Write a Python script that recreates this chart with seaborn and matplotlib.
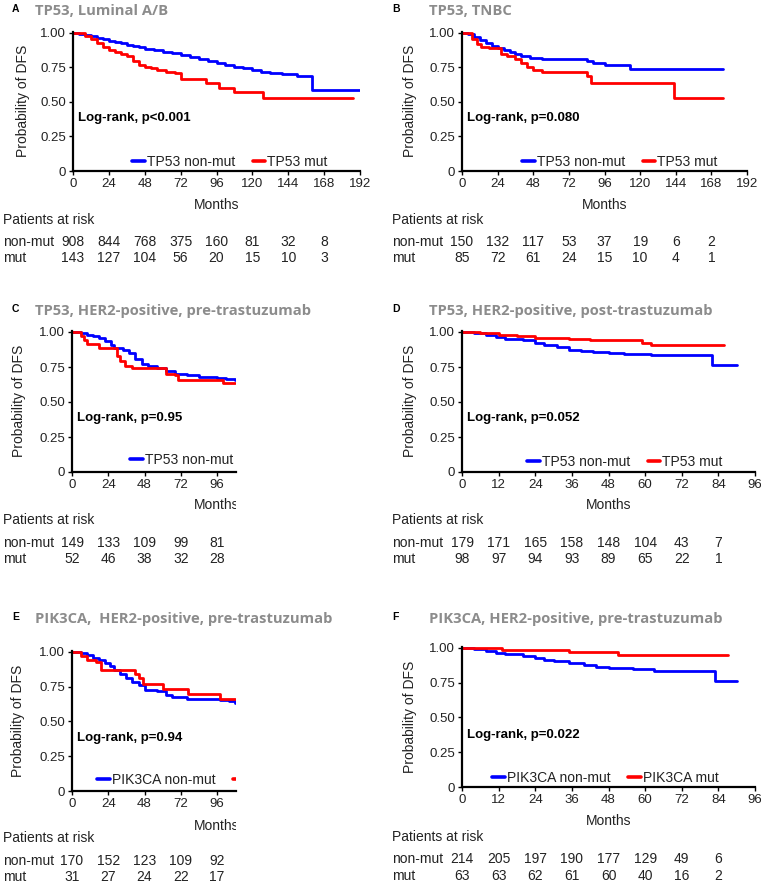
import matplotlib.pyplot as plt
import matplotlib.transforms as mtransforms
import seaborn as sns
import pandas as pd

# Kaplan-Meier curves (months, probability of DFS)
a_nonmut_t = [0, 4, 8, 12, 16, 20, 24, 28, 32, 36, 40, 44, 48, 54, 60, 66, 72, 78, 84, 90,
              96, 102, 108, 114, 120, 126, 132, 140, 150, 160, 192]
a_nonmut_s = [1.0, 0.995, 0.985, 0.975, 0.965, 0.955, 0.945, 0.935, 0.925, 0.915, 0.905,
              0.895, 0.885, 0.875, 0.865, 0.855, 0.84, 0.825, 0.81, 0.795, 0.78, 0.765,
              0.755, 0.745, 0.735, 0.72, 0.71, 0.70, 0.685, 0.588, 0.588]
a_mut_t = [0, 8, 12, 16, 20, 24, 28, 32, 36, 40, 44, 48, 52, 56, 62, 68, 72, 89, 98, 108, 127, 187]
a_mut_s = [1.0, 0.98, 0.955, 0.93, 0.90, 0.88, 0.865, 0.85, 0.83, 0.80, 0.77, 0.755, 0.745,
           0.735, 0.72, 0.71, 0.67, 0.635, 0.60, 0.57, 0.53, 0.53]

b_nonmut_t = [0, 4, 8, 12, 16, 20, 24, 28, 32, 36, 40, 46, 54, 84, 88, 96, 113, 176]
b_nonmut_s = [1.0, 0.99, 0.97, 0.95, 0.93, 0.905, 0.89, 0.875, 0.86, 0.845, 0.83, 0.82,
              0.81, 0.80, 0.785, 0.77, 0.74, 0.74]
b_mut_t = [0, 7, 10, 13, 18, 26, 30, 36, 40, 44, 48, 54, 84, 87, 143, 176]
b_mut_s = [1.0, 0.96, 0.92, 0.90, 0.89, 0.85, 0.83, 0.81, 0.78, 0.75, 0.735, 0.72, 0.685,
           0.635, 0.53, 0.53]

c_nonmut_t = [0, 6, 10, 14, 18, 22, 26, 28, 34, 38, 42, 46, 50, 56, 62, 68, 76, 84, 96, 102, 108]
c_nonmut_s = [1.0, 0.99, 0.98, 0.97, 0.955, 0.935, 0.91, 0.885, 0.87, 0.85, 0.81, 0.775,
              0.755, 0.74, 0.725, 0.70, 0.69, 0.68, 0.675, 0.665, 0.655]
c_mut_t = [0, 6, 8, 10, 18, 30, 32, 35, 40, 62, 68, 70, 100, 108]
c_mut_s = [1.0, 0.97, 0.945, 0.915, 0.885, 0.83, 0.79, 0.76, 0.74, 0.70, 0.695, 0.655,
           0.635, 0.635]

d_nonmut_t = [0, 4, 8, 11, 14, 20, 24, 27, 31, 35, 39, 43, 48, 53, 62, 82, 90]
d_nonmut_s = [1.0, 0.99, 0.98, 0.965, 0.95, 0.94, 0.925, 0.905, 0.89, 0.875, 0.865, 0.855,
              0.85, 0.845, 0.835, 0.765, 0.765]
d_mut_t = [0, 6, 12, 18, 24, 35, 42, 59, 62, 86]
d_mut_s = [1.0, 0.99, 0.98, 0.97, 0.96, 0.95, 0.94, 0.925, 0.91, 0.91]

e_nonmut_t = [0, 6, 10, 14, 18, 22, 25, 28, 32, 36, 40, 44, 48, 56, 62, 66, 76, 98, 104, 108]
e_nonmut_s = [1.0, 0.99, 0.975, 0.955, 0.94, 0.92, 0.90, 0.87, 0.845, 0.815, 0.785, 0.76,
              0.73, 0.72, 0.69, 0.675, 0.665, 0.655, 0.645, 0.63]
e_mut_t = [0, 6, 10, 16, 19, 42, 44, 47, 60, 77, 98, 108]
e_mut_s = [1.0, 0.97, 0.945, 0.925, 0.873, 0.84, 0.81, 0.772, 0.736, 0.70, 0.665, 0.665]

f_nonmut_t = [0, 4, 8, 11, 14, 20, 24, 27, 30, 35, 40, 44, 48, 56, 63, 83, 90]
f_nonmut_s = [1.0, 0.99, 0.98, 0.965, 0.955, 0.945, 0.93, 0.915, 0.905, 0.89, 0.875, 0.865,
              0.855, 0.85, 0.835, 0.765, 0.765]
f_mut_t = [0, 13, 35, 51, 87]
f_mut_s = [1.0, 0.983, 0.969, 0.952, 0.952]

# patients at risk
a_risk_t = [0, 24, 48, 72, 96, 120, 144, 168]
a_risk_nonmut = [908, 844, 768, 375, 160, 81, 32, 8]
a_risk_mut = [143, 127, 104, 56, 20, 15, 10, 3]
b_risk_t = [0, 24, 48, 72, 96, 120, 144, 168]
b_risk_nonmut = [150, 132, 117, 53, 37, 19, 6, 2]
b_risk_mut = [85, 72, 61, 24, 15, 10, 4, 1]
c_risk_t = [0, 24, 48, 72, 96]
c_risk_nonmut = [149, 133, 109, 99, 81]
c_risk_mut = [52, 46, 38, 32, 28]
d_risk_t = [0, 12, 24, 36, 48, 60, 72, 84]
d_risk_nonmut = [179, 171, 165, 158, 148, 104, 43, 7]
d_risk_mut = [98, 97, 94, 93, 89, 65, 22, 1]
e_risk_t = [0, 24, 48, 72, 96]
e_risk_nonmut = [170, 152, 123, 109, 92]
e_risk_mut = [31, 27, 24, 22, 17]
f_risk_t = [0, 12, 24, 36, 48, 60, 72, 84]
f_risk_nonmut = [214, 205, 197, 190, 177, 129, 49, 6]
f_risk_mut = [63, 63, 62, 61, 60, 40, 16, 2]

letters = ['A', 'B', 'C', 'D', 'E', 'F']
titles = ['TP53, Luminal A/B', 'TP53, TNBC', 'TP53, HER2-positive, pre-trastuzumab',
          'TP53, HER2-positive, post-trastuzumab', 'PIK3CA,  HER2-positive, pre-trastuzumab',
          'PIK3CA, HER2-positive, pre-trastuzumab']
genes = ['TP53', 'TP53', 'TP53', 'TP53', 'PIK3CA', 'PIK3CA']
pvals = ['p<0.001', 'p=0.080', 'p=0.95', 'p=0.052', 'p=0.94', 'p=0.022']

W, H = 761, 883
fx = lambda x: x / W
fy = lambda y: 1 - y / H

# layout in pixels: (left, right, top, bottom) of axes, xlim, xtick step, and text rows
layout = [
    dict(box=(73, 360, 31.6, 171), xmax=192, step=24, col=0, title_y=11, months_y=205,
         risk_y=(220, 242, 258), leg=(132, 162), logrank_y=118, ylab_x=30, clip=None),
    dict(box=(462, 747, 31.6, 171), xmax=192, step=24, col=1, title_y=11, months_y=205,
         risk_y=(220, 242, 258), leg=(522, 162), logrank_y=118, ylab_x=417, clip=None),
    dict(box=(72, 236, 330.6, 472), xmax=108.5, step=24, col=0, title_y=311, months_y=505,
         risk_y=(520, 543, 559), leg=(130, 460), logrank_y=418, ylab_x=26, clip=236),
    dict(box=(462, 755, 330.6, 472), xmax=96, step=12, col=1, title_y=311, months_y=505,
         risk_y=(520, 543, 559), leg=(527, 462), logrank_y=418, ylab_x=417, clip=None),
    dict(box=(72, 236, 650.6, 791), xmax=108.5, step=24, col=0, title_y=619, months_y=826,
         risk_y=(838, 861, 877), leg=(97, 780), logrank_y=738, ylab_x=25, clip=236),
    dict(box=(462, 755, 646.6, 787), xmax=96, step=12, col=1, title_y=619, months_y=821,
         risk_y=(837, 859, 876), leg=(492, 778), logrank_y=735, ylab_x=417, clip=None),
]

curves = [(a_nonmut_t, a_nonmut_s, a_mut_t, a_mut_s), (b_nonmut_t, b_nonmut_s, b_mut_t, b_mut_s),
          (c_nonmut_t, c_nonmut_s, c_mut_t, c_mut_s), (d_nonmut_t, d_nonmut_s, d_mut_t, d_mut_s),
          (e_nonmut_t, e_nonmut_s, e_mut_t, e_mut_s), (f_nonmut_t, f_nonmut_s, f_mut_t, f_mut_s)]
risks = [(a_risk_t, a_risk_nonmut, a_risk_mut), (b_risk_t, b_risk_nonmut, b_risk_mut),
         (c_risk_t, c_risk_nonmut, c_risk_mut), (d_risk_t, d_risk_nonmut, d_risk_mut),
         (e_risk_t, e_risk_nonmut, e_risk_mut), (f_risk_t, f_risk_nonmut, f_risk_mut)]

sns.set_style('white')
plt.rcParams['font.family'] = ['Liberation Sans', 'DejaVu Sans']
TXT = '#222222'
FS = 9.5

fig = plt.figure(figsize=(7.61, 8.83), dpi=100)

for i, lay in enumerate(layout):
    l, r, t, b = lay['box']
    ax = fig.add_axes([fx(l), fy(b), (r - l) / W, (b - t) / H])
    nt, ns, mt, ms = curves[i]
    df_n = pd.DataFrame({'Months': nt, 'DFS': ns})
    df_m = pd.DataFrame({'Months': mt, 'DFS': ms})
    sns.lineplot(data=df_n, x='Months', y='DFS', ax=ax, color='#0000ff', linewidth=2,
                 drawstyle='steps-post', estimator=None, sort=False,
                 label=genes[i] + ' non-mut')
    sns.lineplot(data=df_m, x='Months', y='DFS', ax=ax, color='#ff0000', linewidth=2,
                 drawstyle='steps-post', estimator=None, sort=False,
                 label=genes[i] + ' mut')

    ax.set_xlim(0, lay['xmax'])
    ax.set_ylim(0, 1.01)
    ax.set_xticks(list(range(0, int(lay['xmax']) + 1, lay['step'])))
    ax.set_yticks([0, 0.25, 0.5, 0.75, 1.0])
    ax.set_yticklabels(['0', '0.25', '0.50', '0.75', '1.00'])
    ax.set_xlabel('')
    ax.set_ylabel('Probability of DFS', fontsize=FS + 0.5, color=TXT)
    ax.yaxis.set_label_coords((lay['ylab_x'] - l) / (r - l), 0.5)
    sns.despine(ax=ax)
    for s in ['left', 'bottom']:
        ax.spines[s].set_linewidth(1.6)
        ax.spines[s].set_color('black')
    ax.tick_params(axis='both', length=3, width=1, pad=2, labelsize=FS, labelcolor=TXT,
                   color='black', bottom=True, left=True)

    # log-rank annotation
    fig.text(fx(l + 5), fy(lay['logrank_y']), 'Log-rank, ' + pvals[i], fontsize=FS,
             fontweight='bold', color='black', va='center', ha='left')

    # legend
    leg = ax.legend(loc='center left', bbox_to_anchor=(fx(lay['leg'][0]), fy(lay['leg'][1])),
                    bbox_transform=fig.transFigure, ncol=2, frameon=False, fontsize=FS + 0.5,
                    handlelength=0.9, handletextpad=0.15, columnspacing=1.3, borderpad=0,
                    borderaxespad=0)
    for line in leg.get_lines():
        line.set_linewidth(2.6)
    for txt in leg.get_texts():
        txt.set_color(TXT)

    # panel letter and title
    x0 = 0 if lay['col'] == 0 else 380
    fig.text(fx(x0 + 12), fy(lay['title_y'] - 2), letters[i], fontsize=7.5,
             fontweight='bold', color='black', va='center', ha='left')
    fig.text(fx(35 if lay['col'] == 0 else 429), fy(lay['title_y']), titles[i],
             fontsize=10.6, fontweight='bold', color='#8c8c8c',
             family=['Open Sans', 'DejaVu Sans'], va='center', ha='left')

    # months label and risk table, x from the axis data scale
    trans = mtransforms.blended_transform_factory(ax.transData, fig.transFigure)
    mid = 48 if lay['xmax'] == 96 else 96
    mtxt = ax.text(mid, fy(lay['months_y']), 'Months', transform=trans, fontsize=FS + 0.5,
                   color=TXT, ha='center', va='center', clip_on=False)
    rx = fx(3 if lay['col'] == 0 else 392)
    ry0, ry1, ry2 = lay['risk_y']
    fig.text(rx, fy(ry0), 'Patients at risk', fontsize=FS + 0.5, color=TXT, va='center')
    fig.text(rx, fy(ry1), 'non-mut', fontsize=FS + 0.5, color=TXT, va='center')
    fig.text(rx, fy(ry2), 'mut', fontsize=FS + 0.5, color=TXT, va='center')
    rt, rn, rm = risks[i]
    for tt, n1, n2 in zip(rt, rn, rm):
        ax.text(tt, fy(ry1), str(n1), transform=trans, fontsize=FS + 0.5, color=TXT,
                ha='center', va='center', clip_on=False)
        ax.text(tt, fy(ry2), str(n2), transform=trans, fontsize=FS + 0.5, color=TXT,
                ha='center', va='center', clip_on=False)

    # panels C and E are cropped on the right in the original figure
    if lay['clip'] is not None:
        cb = mtransforms.TransformedBbox(
            mtransforms.Bbox.from_extents(0, 0, fx(lay['clip']), 1), fig.transFigure)
        for art in [mtxt] + leg.findobj():
            art.set_clip_box(cb)
            art.set_clip_on(True)

fig.savefig('out.png', dpi=100)
